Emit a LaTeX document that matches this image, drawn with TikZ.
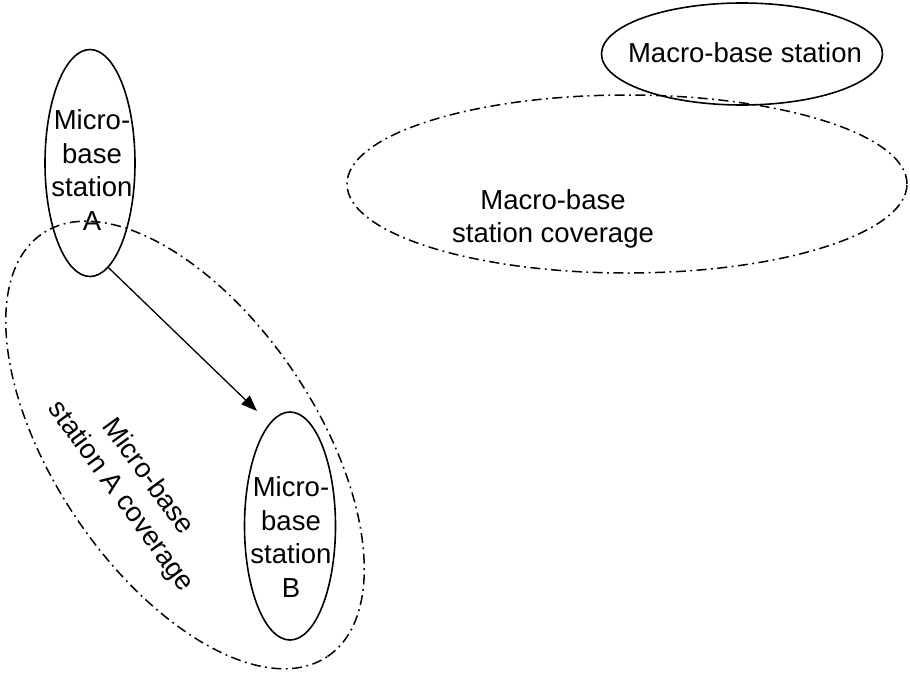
\documentclass[tikz,border=0pt]{standalone}
\usepackage{fontspec}
\setmainfont{Liberation Sans}
\usetikzlibrary{shapes.geometric, arrows.meta}

\begin{document}
\begin{tikzpicture}[
    x=1pt, y=-1pt,
    station/.style={draw, ellipse, line width=1.6pt, inner sep=0pt},
    coverage/.style={draw, ellipse, line width=1.5pt, inner sep=0pt, dash pattern=on 10pt off 4.5pt on 1.8pt off 4.5pt},
    txt/.style={align=center, inner sep=0pt, font=\fontsize{27.5}{33.5}\selectfont}
]
\useasboundingbox (0,0) rectangle (910,675);

% Coverage areas
\node[coverage, minimum width=560pt, minimum height=178pt] (macrocov) at (627,184) {};
\node[coverage, minimum width=510pt, minimum height=262pt, rotate=-56] (acov) at (185,445) {};

% Base stations
\node[station, minimum width=281pt, minimum height=102pt] (macro) at (742,54) {};
\node[station, minimum width=90pt, minimum height=227pt] (A) at (90,163) {};
\node[station, minimum width=91pt, minimum height=228pt] (B) at (290,526) {};

% Labels
\node[txt] (macrotext) at (745,53) {Macro-base station};
\node[txt] (macrocovtext) at (553,219) {Macro-base\\station coverage};
\node[txt] (Atext) at (92,170) {Micro-\\base\\station\\A};
\node[txt] (Btext) at (291,537) {Micro-\\base\\station\\B};
\node[txt, rotate=-54] (acovtext) at (134,487) {Micro-base\\station A coverage};

% Handover arrow
\coordinate (tipB) at (257,411);
\draw[-{Triangle[length=16pt,width=12pt]}, line width=1.3pt] (A.-80) -- (tipB);
\end{tikzpicture}
\end{document}
